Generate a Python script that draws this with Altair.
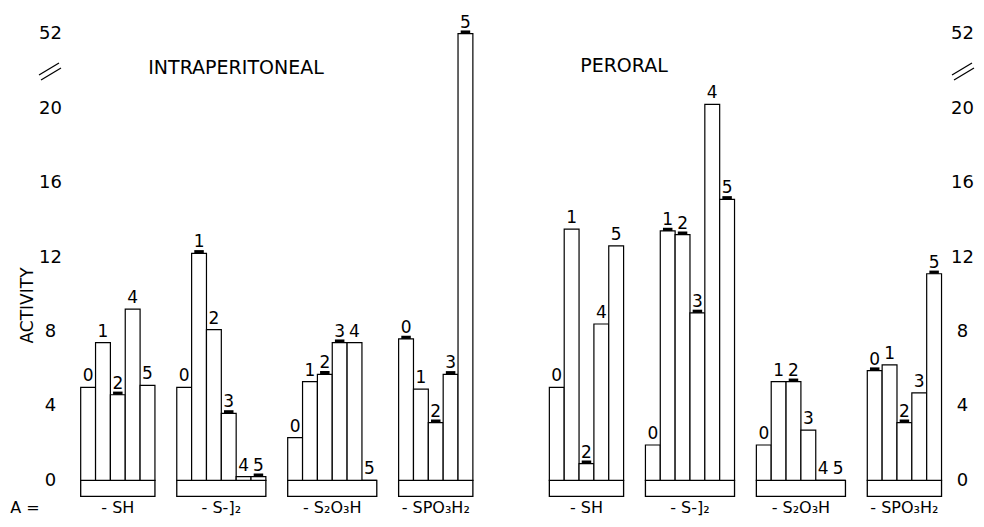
import altair as alt
import pandas as pd

FONT = "DejaVu Sans"

# ---------------- data ----------------
routes = ["INTRAPERITONEAL", "PERORAL"]
groups = ["- SH", "- S-]₂", "- S₂O₃H", "- SPO₃H₂"]

# compound numbers shown in each group
n_sh = [0, 1, 2, 4, 5]
n_ss = [0, 1, 2, 3, 4, 5]
n_s2o3h = [0, 1, 2, 3, 4, 5]
n_spo3h2 = [0, 1, 2, 3, 5]

# activity, intraperitoneal
ip_sh = [5.0, 7.4, 4.6, 9.2, 5.1]
ip_ss = [5.0, 12.2, 8.1, 3.6, 0.2, 0.2]
ip_s2o3h = [2.3, 5.3, 5.7, 7.4, 7.4, 0.0]
ip_spo3h2 = [7.6, 4.9, 3.1, 5.7, 52.0]

# activity, peroral
po_sh = [5.0, 13.5, 0.9, 8.4, 12.6]
po_ss = [1.9, 13.4, 13.2, 9.0, 20.2, 15.1]
po_s2o3h = [1.9, 5.3, 5.3, 2.7, 0.0, 0.0]
po_spo3h2 = [5.9, 6.2, 3.1, 4.7, 11.1]

# underlined values (1 = marked)
ip_sh_mk = [0, 0, 1, 0, 0]
ip_ss_mk = [0, 1, 0, 1, 0, 1]
ip_s2o3h_mk = [0, 0, 1, 1, 0, 0]
ip_spo3h2_mk = [1, 0, 1, 1, 1]
po_sh_mk = [0, 0, 1, 0, 0]
po_ss_mk = [0, 1, 1, 1, 0, 1]
po_s2o3h_mk = [0, 0, 1, 0, 0, 0]
po_spo3h2_mk = [1, 0, 1, 0, 1]

y_ticks = [0, 4, 8, 12, 16, 20, 24]   # 24 is the broken-axis slot labelled 52
BREAK_VALUE = 52
BREAK_SLOT = 24

# ---------------- layout rules ----------------
GROUP_GAP = 1.47
ROUTE_GAP = 5.15
BOX_DEPTH = 0.86

layout = [
    (routes[0], [(groups[0], n_sh, ip_sh, ip_sh_mk),
                 (groups[1], n_ss, ip_ss, ip_ss_mk),
                 (groups[2], n_s2o3h, ip_s2o3h, ip_s2o3h_mk),
                 (groups[3], n_spo3h2, ip_spo3h2, ip_spo3h2_mk)]),
    (routes[1], [(groups[0], n_sh, po_sh, po_sh_mk),
                 (groups[1], n_ss, po_ss, po_ss_mk),
                 (groups[2], n_s2o3h, po_s2o3h, po_s2o3h_mk),
                 (groups[3], n_spo3h2, po_spo3h2, po_spo3h2_mk)]),
]

bars, boxes = [], []
pos = 0.0
for route, glist in layout:
    for gname, ns, vals, mks in glist:
        start = pos
        for i, (n, v, m) in enumerate(zip(ns, vals, mks)):
            bars.append(dict(route=route, group=gname, lab=str(n), value=v,
                             marked=m, x0=start + i, x1=start + i + 1))
        boxes.append(dict(route=route, group=gname, x0=start,
                          x1=start + len(ns)))
        pos = start + len(ns) + GROUP_GAP
    pos += ROUTE_GAP - GROUP_GAP

bars_df = pd.DataFrame(bars)
boxes_df = pd.DataFrame(boxes)

XS = alt.Scale(domain=[-0.72, 58.54], nice=False, zero=False)
YS = alt.Scale(domain=[-1, 25], nice=False, zero=False)

axis_common = dict(values=y_ticks,
                   labelExpr=f"datum.value == {BREAK_SLOT} ? '{BREAK_VALUE}' : datum.label",
                   domain=False, ticks=False, tickSize=0, grid=False,
                   labelFont=FONT, labelFontSize=18, labelColor="black",
                   labelAlign="center", labelBaseline="middle",
                   labelPadding=20)
left_axis = alt.Axis(orient="left", title="ACTIVITY", titleFont=FONT,
                     titleFontSize=17, titleFontWeight="normal",
                     titleColor="black", titleX=-43, titleY=290,
                     titleAngle=270, titleAlign="center",
                     titleBaseline="middle", **axis_common)
right_axis = alt.Axis(orient="right", title=None,
                      **{**axis_common, "labelPadding": 12})

# values above the break are drawn at the break slot
disp = alt.expr.if_(alt.datum.value >= BREAK_VALUE, BREAK_SLOT, alt.datum.value)

base_bars = alt.Chart(bars_df).transform_calculate(disp=disp)

box_layer = alt.Chart(boxes_df).mark_rect(
    fill="white", stroke="black", strokeWidth=1.3
).encode(
    x=alt.X("x0:Q", scale=XS, axis=None), x2="x1:Q",
    y=alt.datum(0, scale=YS, axis=None), y2=alt.datum(-BOX_DEPTH),
)

bar_layer = base_bars.mark_rect(
    fill="white", stroke="black", strokeWidth=1.2
).encode(
    x=alt.X("x0:Q", scale=XS, axis=None), x2="x1:Q",
    y=alt.Y("disp:Q", scale=YS, axis=left_axis), y2=alt.datum(0),
)

mark_layer = base_bars.transform_filter(alt.datum.marked == 1).transform_calculate(
    mx0=alt.datum.x0 + 0.18, mx1=alt.datum.x1 - 0.18,
    my=alt.datum.disp + 0.17
).mark_rect(fill="black", stroke=None).encode(
    x=alt.X("mx0:Q", scale=XS, axis=None), x2="mx1:Q",
    y=alt.Y("disp:Q", scale=YS, axis=None), y2="my:Q",
)

label_layer = base_bars.transform_calculate(
    xc=(alt.datum.x0 + alt.datum.x1) / 2
).mark_text(font=FONT, fontSize=17, baseline="bottom", dy=-2,
            color="black").encode(
    x=alt.X("xc:Q", scale=XS, axis=None),
    y=alt.Y("disp:Q", scale=YS, axis=right_axis),
    text="lab:N",
)

group_label_layer = alt.Chart(boxes_df).transform_calculate(
    xc=(alt.datum.x0 + alt.datum.x1) / 2
).mark_text(font=FONT, fontSize=16, baseline="middle", color="black").encode(
    x=alt.X("xc:Q", scale=XS, axis=None),
    y=alt.datum(-1.5, scale=YS, axis=None),
    text="group:N",
)

one = alt.Data(values=[{}])

def note(txt, x, y, size=18):
    return alt.Chart(one).mark_text(
        text=txt, font=FONT, fontSize=size, color="black",
        align="center", baseline="middle"
    ).encode(x=alt.value(x), y=alt.value(y))

def seg(x, y, x2, y2):
    return alt.Chart(one).mark_rule(color="black", strokeWidth=1.3).encode(
        x=alt.value(x), y=alt.value(y), x2=alt.value(x2), y2=alt.value(y2))

annotations = [
    note(routes[0], 166, 53, 19),
    note(routes[1], 554, 51, 19),
    note("A =", -45, 493, 16),
    seg(-31, 60, -11, 48), seg(-29, 65, -9, 53),
    seg(882, 60, 902, 48), seg(884, 65, 904, 53),
]

chart = alt.layer(
    box_layer, bar_layer, mark_layer, label_layer, group_label_layer,
    *annotations
).resolve_scale(x="shared", y="shared").resolve_axis(y="independent").properties(
    width=880, height=484,
    padding={"left": 62, "top": 7, "right": 26, "bottom": 20},
    autosize=alt.AutoSizeParams(type="none"),
    background="white",
).configure_view(stroke=None)

chart.save("out.html", embed_options={"renderer": "svg", "actions": False})
